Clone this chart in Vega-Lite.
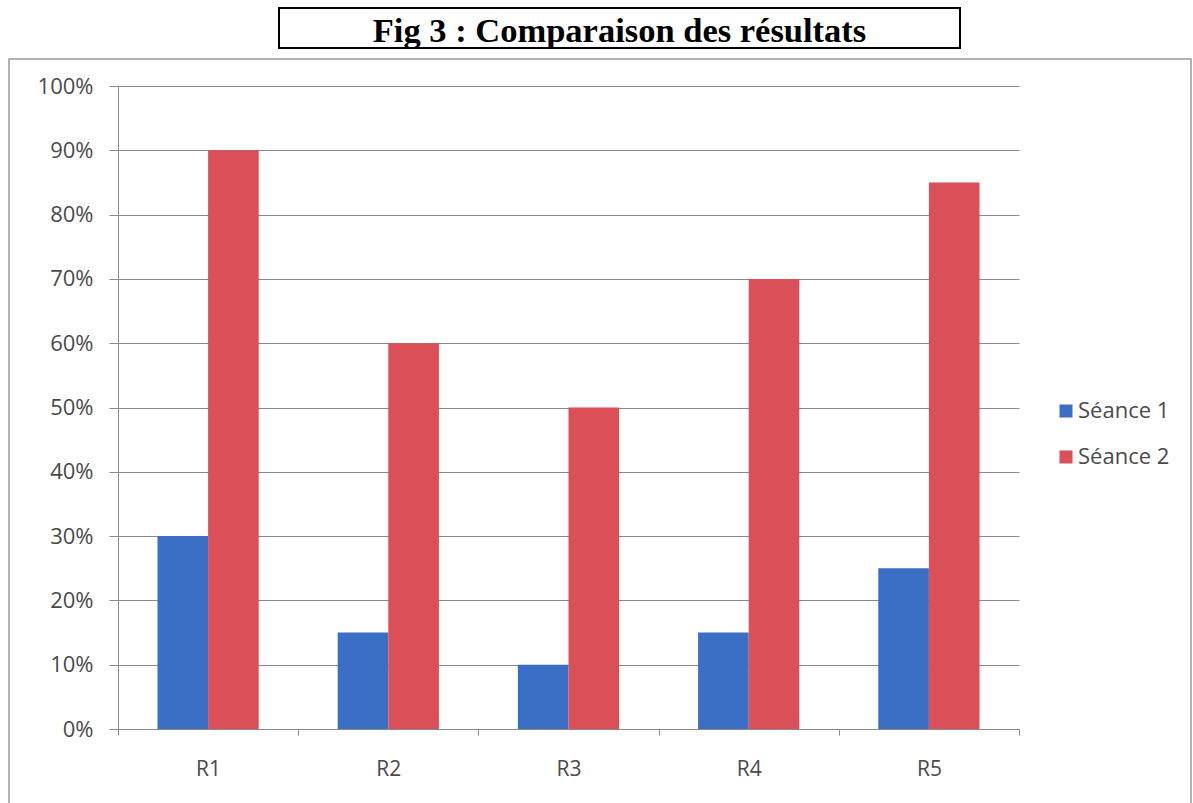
{
  "$schema": "https://vega.github.io/schema/vega-lite/v6.json",
  "background": "white",
  "padding": {"left": 8, "top": 7, "right": 0, "bottom": 0},
  "spacing": 8,
  "config": {
    "font": "Open Sans"
  },
  "vconcat": [
    {
      "spacing": 0,
      "hconcat": [
        {
          "width": 269,
          "height": 40,
          "view": {"stroke": null},
          "data": {"values": [{"vide": ""}]},
          "mark": {"type": "text", "opacity": 0},
          "encoding": {"text": {"field": "vide"}}
        },
        {
          "width": 681,
          "height": 40,
          "view": {"stroke": "black", "strokeWidth": 2},
          "data": {"values": [{"titre": "Fig 3 : Comparaison des résultats"}]},
          "mark": {
            "type": "text",
            "font": "Liberation Serif",
            "fontWeight": "bold",
            "fontSize": 34.5,
            "color": "black",
            "baseline": "middle",
            "align": "center",
            "dy": 4
          },
          "encoding": {"text": {"field": "titre"}}
        }
      ]
    },
    {
      "width": 1182,
      "height": 750,
      "view": {"stroke": "#9a9a9a", "strokeWidth": 1.5},
      "data": {
        "values": [
          {"groupe": "R1", "seance": "Séance 1", "valeur": 0.30},
          {"groupe": "R1", "seance": "Séance 2", "valeur": 0.90},
          {"groupe": "R2", "seance": "Séance 1", "valeur": 0.15},
          {"groupe": "R2", "seance": "Séance 2", "valeur": 0.60},
          {"groupe": "R3", "seance": "Séance 1", "valeur": 0.10},
          {"groupe": "R3", "seance": "Séance 2", "valeur": 0.50},
          {"groupe": "R4", "seance": "Séance 1", "valeur": 0.15},
          {"groupe": "R4", "seance": "Séance 2", "valeur": 0.70},
          {"groupe": "R5", "seance": "Séance 1", "valeur": 0.25},
          {"groupe": "R5", "seance": "Séance 2", "valeur": 0.85}
        ]
      },
      "mark": {"type": "bar"},
      "encoding": {
        "x": {
          "field": "groupe",
          "type": "nominal",
          "scale": {"range": [109, 1010], "paddingInner": 0, "paddingOuter": 0},
          "axis": {
            "title": null,
            "orient": "bottom",
            "offset": -80,
            "tickBand": "extent",
            "tickSize": 6,
            "labelAngle": 0,
            "labelPadding": 23,
            "labelFontSize": 21,
            "labelColor": "#4a4a4a",
            "labelFont": "Open Sans",
            "domainColor": "#8a8a8a",
            "tickColor": "#8a8a8a",
            "grid": false
          }
        },
        "xOffset": {
          "field": "seance",
          "type": "nominal",
          "scale": {"paddingInner": 0, "paddingOuter": 0.78}
        },
        "y": {
          "field": "valeur",
          "type": "quantitative",
          "scale": {"domain": [0, 1], "range": [670, 27]},
          "axis": {
            "title": null,
            "orient": "left",
            "offset": -109,
            "values": [0, 0.1, 0.2, 0.3, 0.4, 0.5, 0.6, 0.7, 0.8, 0.9, 1],
            "format": ".0%",
            "tickSize": 9,
            "labelPadding": 16,
            "labelFontSize": 22,
            "labelColor": "#4a4a4a",
            "labelFont": "Open Sans",
            "domainColor": "#8a8a8a",
            "tickColor": "#8a8a8a",
            "grid": true,
            "gridColor": "#8a8a8a",
            "gridWidth": 1
          }
        },
        "color": {
          "field": "seance",
          "type": "nominal",
          "scale": {"domain": ["Séance 1", "Séance 2"], "range": ["#3A6FC5", "#DB4F58"]},
          "legend": {
            "title": null,
            "orient": "none",
            "legendX": 1046,
            "legendY": 392,
            "symbolType": "square",
            "symbolSize": 169,
            "symbolStrokeWidth": 0,
            "labelFontSize": 22,
            "labelFont": "Open Sans",
            "labelColor": "#4a4a4a",
            "labelOffset": 1,
            "rowPadding": 24,
            "padding": 0
          }
        }
      }
    }
  ]
}
